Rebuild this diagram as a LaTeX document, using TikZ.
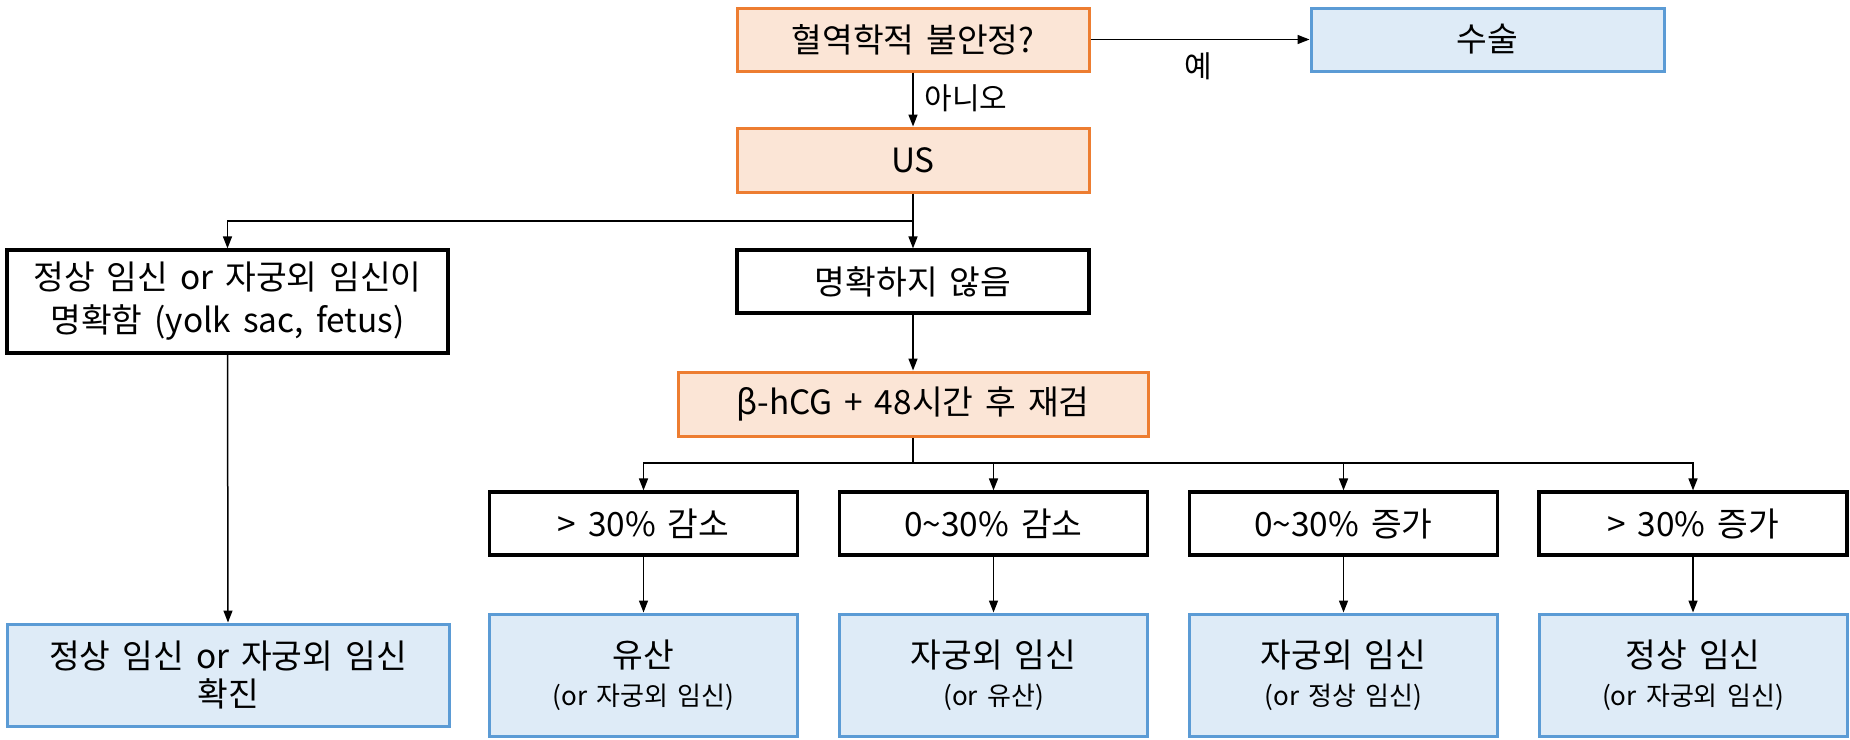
\documentclass[tikz,border=0pt]{standalone}
\usepackage{fontspec}
\setmainfont[WordSpace=1.6]{Noto Sans CJK KR}
\usetikzlibrary{arrows.meta}
\definecolor{obord}{HTML}{ED7D31}
\definecolor{ofill}{HTML}{FBE5D6}
\definecolor{bbord}{HTML}{5B9BD5}
\definecolor{bfill}{HTML}{DEEBF7}
\newcommand{\fsz}[2]{\fontsize{#1}{#2}\selectfont}
\begin{document}
\begin{tikzpicture}[x=0.5pt,y=-0.5pt,
  box/.style={rectangle, inner sep=0pt, align=center, font=\fsz{16.7}{19}},
  obox/.style={box, draw=obord, fill=ofill, line width=1.5pt},
  bbox/.style={box, draw=bbord, fill=bfill, line width=1.5pt},
  wbox/.style={box, draw=black, fill=white, line width=1.6pt},
  conn/.style={draw, line width=0.75pt, -{Triangle[length=6pt,width=4.5pt]}},
  plain/.style={draw, line width=0.75pt},
  lbl/.style={font=\fsz{15}{17}, inner sep=0pt}]
\useasboundingbox (0,0) rectangle (1850,739);

\node[obox, minimum width=176pt, minimum height=31.5pt] (top) at (913,39.5) {혈역학적 불안정?};
\node[bbox, minimum width=176.5pt, minimum height=31.5pt] (surg) at (1487.5,39.5) {수술};
\node[obox, minimum width=176pt, minimum height=32pt] (us) at (913,160) {US};
\node[wbox, minimum width=220.5pt, minimum height=51.5pt, font=\fsz{16.7}{21.5}] (left1) at (227.5,301.5) {정상 임신 or 자궁외 임신이\\명확함 (yolk sac, fetus)};
\node[wbox, minimum width=176pt, minimum height=31.5pt] (unclear) at (913,281.5) {명확하지 않음};
\node[obox, minimum width=235pt, minimum height=32pt] (bhcg) at (913,404) {β-hCG + 48시간 후 재검};

\node[wbox, minimum width=154pt, minimum height=31.5pt] (r1) at (643.5,523.5) {> 30\% 감소};
\node[wbox, minimum width=154pt, minimum height=31.5pt] (r2) at (993.5,523.5) {0\textasciitilde30\% 감소};
\node[wbox, minimum width=154pt, minimum height=31.5pt] (r3) at (1343.5,523.5) {0\textasciitilde30\% 증가};
\node[wbox, minimum width=154pt, minimum height=31.5pt] (r4) at (1693,523.5) {> 30\% 증가};

\node[bbox, minimum width=154pt, minimum height=61pt] (o1) at (643.5,675) {유산\\{\fsz{13}{14}(or 자궁외 임신)}};
\node[bbox, minimum width=154pt, minimum height=61pt] (o2) at (993.5,675) {자궁외 임신\\{\fsz{13}{14}(or 유산)}};
\node[bbox, minimum width=154pt, minimum height=61pt] (o3) at (1343.5,675) {자궁외 임신\\{\fsz{13}{14}(or 정상 임신)}};
\node[bbox, minimum width=154pt, minimum height=61pt] (o4) at (1693,675) {정상 임신\\{\fsz{13}{14}(or 자궁외 임신)}};

\node[bbox, minimum width=221pt, minimum height=51pt, font=\fsz{16.7}{19}] (left2) at (228,675) {정상 임신 or 자궁외 임신\\확진};

\coordinate (j1) at (913,221);
\coordinate (j2) at (913,463);

\draw[conn] (top.east) -- (surg.west);
\node[lbl] (yes) at (1198,66) {예};
\draw[conn] (top.south) -- (us.north);
\node[lbl] (no) at (966,98) {아니오};

\draw[conn] (us.south) -- (unclear.north);
\draw[conn] (j1) -| (left1.north);
\draw[conn] (unclear.south) -- (bhcg.north);
\draw[conn] (left1.south) -- (left2.north);

\draw[plain] (bhcg.south) -- (j2);
\draw[conn] (j2) -| (r1.north);
\draw[conn] (j2) -| (r2.north);
\draw[conn] (j2) -| (r3.north);
\draw[conn] (j2) -| (r4.north);

\draw[conn] (r1.south) -- (o1.north);
\draw[conn] (r2.south) -- (o2.north);
\draw[conn] (r3.south) -- (o3.north);
\draw[conn] (r4.south) -- (o4.north);
\end{tikzpicture}
\end{document}
